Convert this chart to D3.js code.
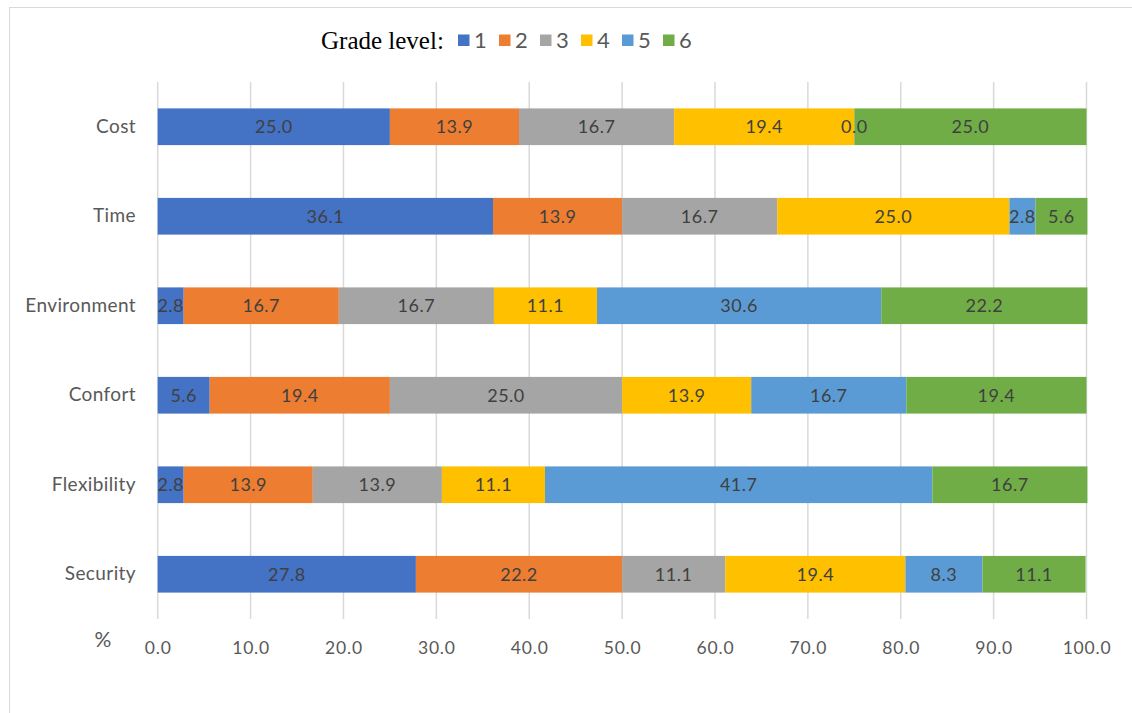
<!DOCTYPE html>
<html>
<head>
<meta charset="utf-8">
<script src="https://cdn.jsdelivr.net/npm/d3@7/dist/d3.min.js"></script>
<style>
  html, body { margin: 0; padding: 0; background: #fff; }
  svg { display: block; }
</style>
</head>
<body>
<svg id="chart" width="1132" height="713"></svg>
<script>
// Survey results: share of respondents (%) per grade level for each criterion
const categories = ["Cost", "Time", "Environment", "Confort", "Flexibility", "Security"];
const grades = ["1", "2", "3", "4", "5", "6"];
const grade1 = [25.0, 36.1, 2.8, 5.6, 2.8, 27.8];
const grade2 = [13.9, 13.9, 16.7, 19.4, 13.9, 22.2];
const grade3 = [16.7, 16.7, 16.7, 25.0, 13.9, 11.1];
const grade4 = [19.4, 25.0, 11.1, 13.9, 11.1, 19.4];
const grade5 = [0.0, 2.8, 30.6, 16.7, 41.7, 8.3];
const grade6 = [25.0, 5.6, 22.2, 19.4, 16.7, 11.1];
const xTicks = [0, 10, 20, 30, 40, 50, 60, 70, 80, 90, 100];
const gradeColors = ["#4472C4", "#ED7D31", "#A5A5A5", "#FFC000", "#5B9BD5", "#70AD47"];

const seriesValues = [grade1, grade2, grade3, grade4, grade5, grade6];
const rows = categories.map((c, i) => {
  const r = { category: c };
  grades.forEach((g, j) => { r[g] = seriesValues[j][i]; });
  return r;
});

const svg = d3.select("#chart");
const sansFont = "Lato, 'Liberation Sans', sans-serif";

// outer frame lines
svg.append("line").attr("x1", 9).attr("x2", 1132).attr("y1", 7.5).attr("y2", 7.5)
  .attr("stroke", "#d9d9d9").attr("stroke-width", 1);
svg.append("line").attr("x1", 9.5).attr("x2", 9.5).attr("y1", 7).attr("y2", 713)
  .attr("stroke", "#d9d9d9").attr("stroke-width", 1);

const x = d3.scaleLinear().domain([0, 100]).range([157.7, 1086.5]);
const y = d3.scaleBand().domain(categories).range([82, 619])
  .paddingInner(0.59).paddingOuter(0.295);

// vertical gridlines
svg.append("g").selectAll("line").data(xTicks).join("line")
  .attr("x1", d => x(d)).attr("x2", d => x(d))
  .attr("y1", 82).attr("y2", 619)
  .attr("stroke", "#d9d9d9").attr("stroke-width", 1.5);

// x axis labels
const xAxis = d3.axisBottom(x).tickValues(xTicks).tickFormat(d3.format(".1f")).tickSize(0).tickPadding(0);
const gx = svg.append("g").attr("transform", "translate(0,639)").call(xAxis);
gx.select(".domain").remove();
gx.selectAll("text").attr("font-family", sansFont).attr("font-size", 17.5)
  .attr("letter-spacing", "0.8px")
  .attr("fill", "#595959").attr("dy", "0.85em");

svg.append("text").attr("x", 103).attr("y", 640).attr("dy", "0.35em")
  .attr("text-anchor", "middle").attr("font-family", sansFont).attr("font-size", 21)
  .attr("fill", "#595959").text("%");

// y axis labels
const yAxis = d3.axisLeft(y).tickSize(0).tickPadding(0);
const gy = svg.append("g").attr("transform", "translate(136,0)").call(yAxis);
gy.select(".domain").remove();
gy.selectAll("text").attr("font-family", sansFont).attr("font-size", 19)
  .attr("letter-spacing", "0.4px").attr("fill", "#595959");

// stacked bars
const stacked = d3.stack().keys(grades)(rows);
const layers = svg.append("g").selectAll("g").data(stacked).join("g")
  .attr("fill", (d, i) => gradeColors[i]);
layers.selectAll("rect").data(d => d).join("rect")
  .attr("x", d => x(d[0]))
  .attr("width", d => x(d[1]) - x(d[0]))
  .attr("y", d => y(d.data.category))
  .attr("height", y.bandwidth());

// value labels centred in each segment
const labels = svg.append("g");
stacked.forEach(layer => {
  layer.forEach(d => {
    labels.append("text")
      .attr("x", (x(d[0]) + x(d[1])) / 2)
      .attr("y", y(d.data.category) + y.bandwidth() / 2)
      .attr("dy", "0.35em")
      .attr("text-anchor", "middle")
      .attr("font-family", sansFont).attr("font-size", 18)
      .attr("letter-spacing", "0.5px")
      .attr("fill", "#404040")
      .text(d3.format(".1f")(d.data[layer.key]));
  });
});

// legend
const legend = svg.append("g");
legend.append("text").attr("x", 321).attr("y", 40).attr("dy", "0.35em")
  .attr("font-family", "'Liberation Serif', 'Times New Roman', serif")
  .attr("font-size", 25).attr("fill", "#000").text("Grade level:");
const items = legend.selectAll("g.item").data(grades).join("g").attr("class", "item")
  .attr("transform", (d, i) => `translate(${458 + i * 41},0)`);
items.append("rect").attr("x", 0).attr("y", 34.5).attr("width", 11.5).attr("height", 11.5)
  .attr("fill", (d, i) => gradeColors[i]);
items.append("text").attr("x", 16).attr("y", 40).attr("dy", "0.35em")
  .attr("font-family", sansFont).attr("font-size", 22).attr("fill", "#595959")
  .text(d => d);
</script>
</body>
</html>
